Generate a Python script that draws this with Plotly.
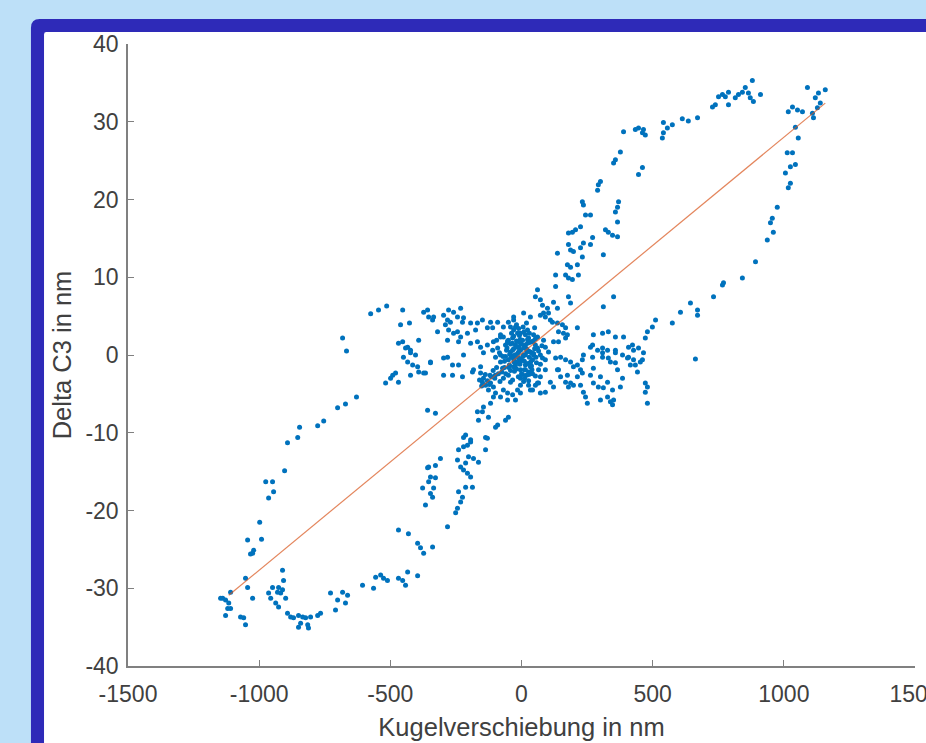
import plotly.graph_objects as go

# ---- data ----
upper_x = [880,853,842,827,815,865,872,884,911,789,777,789,766,751,739,728,671,636,613,575,556,541,537,541,465,461,446,434,472,389,377,358,351,461,446,301,293,290,232,236,263,244,370,366,358,366,320,331,347,366,225,206,194,179,271,263,236,225,232,179,187,198,312,137,175,187,213,130,168,179,194,217,130,61,53,179,351,312,80,99,103,91,72,118,137,156,168,160,141,213,168,141,122,72,122,137,187,8,34,84,110,175,-30,-50,-69]
upper_y = [35.3,34.4,33.8,33.5,33.1,33.7,33.1,32.6,33.5,33.8,33.2,32.2,33.5,33.2,32.2,31.9,30.5,30.1,30.4,29.6,29.2,28.6,27.9,29.9,29.0,28.6,29.2,29.0,28.3,28.7,26.1,25.1,24.7,24.1,23.2,22.3,21.9,21.2,19.7,19.3,18.0,18.0,19.7,19.0,18.4,17.1,16.1,15.8,15.4,15.2,16.5,16.1,15.8,15.7,15.1,14.2,14.4,13.8,12.6,14.2,13.5,13.3,12.9,13.1,11.6,11.3,11.6,10.3,10.3,9.9,9.7,10.3,8.8,8.4,7.5,7.5,7.5,6.2,6.4,6.0,5.4,4.9,5.1,4.2,4.1,3.9,3.5,2.8,3.0,3.5,2.2,1.7,1.7,7.1,6.8,6.0,6.7,5.4,4.9,5.4,4.5,2.6,4.9,4.2,3.6]

right_x = [1090,1132,1158,1120,1139,1128,1109,1113,1033,1052,1071,1017,1044,1055,1013,1033,1044,1025,1006,1025,1017,975,956,949,960,937,892,842,770,766,732,671,671,644,606,575,511,499,480,472]
right_y = [34.4,33.7,34.1,33.1,32.4,31.8,31.1,30.5,31.9,31.5,31.3,31.3,29.3,27.9,26.0,26.0,24.5,24.2,23.4,22.1,21.5,19.0,17.6,17.0,15.8,14.8,12.0,9.9,9.3,9.0,7.5,5.8,5.1,6.7,5.5,4.1,4.5,3.6,3.0,2.2]

lobe_x = [389,358,331,309,274,271,309,358,408,423,446,465,427,408,427,453,434,442,480,472,480,385,377,263,290,309,328,339,358,274,301,328,263,274,293,312,236,244,251,328,339,347,213,225,149,168,187,213,225,232,137,149,168,179,198,122,91,110,663,472,415,404,461,385,366,347,351,301,236,271,309,331,358,198,232,175,187,130,141,65,42,27,-4,-23,34,53,72]
lobe_y = [2.3,2.3,3.0,2.8,2.6,1.3,0.9,0.6,1.0,1.3,0.9,0.3,0.6,-0.3,-0.6,-0.9,-1.3,-2.2,-4.1,-4.8,-6.2,-3.0,-4.1,1.0,0.6,-0.3,0.6,-0.9,-1.0,-1.7,-2.8,-3.5,-2.6,-3.6,-4.1,-4.2,-4.8,-5.4,-6.2,-5.4,-6.0,-6.4,-2.8,-3.9,-0.3,-0.6,-0.9,-1.3,-1.9,-0.6,-1.9,-2.8,-3.5,-4.1,-3.9,-4.1,-4.8,-3.5,-0.5,-3.6,-1.3,-0.4,-0.6,0.0,-1.9,-4.5,-5.8,-5.8,0.0,-0.3,0.3,-0.4,0.3,-1.5,-2.3,-2.6,-3.6,-0.4,-1.9,-3.6,-4.5,-3.9,-4.9,-5.8,-4.5,-3.9,-4.9]

mid_x = [-358,-335,-297,-282,-259,-232,-221,-194,-175,-206,-232,-259,-194,-156,-130,-149,-118,-110,-91,-80,-320,-347,-366,-297,-263,-263,-225,-187,-156,-149,-137,-118,-126,-99,-80,-53,-15,-34,-69,-358,-328,-168,-164,-126,-91,-61,-50,-221,-194,-206,-137]
mid_y = [5.8,4.9,5.1,4.5,5.5,6.0,4.8,4.1,3.2,2.8,2.3,2.8,1.5,1.0,1.3,4.5,4.2,3.5,4.2,2.3,3.0,-0.9,-2.3,-0.4,-1.3,-2.6,-2.8,-2.2,-1.5,-3.5,-3.9,-3.6,-4.5,-4.9,-5.4,-5.8,-4.5,-5.1,-4.5,-7.1,-7.5,-7.3,-8.4,-8.0,-9.0,-8.4,-8.0,-10.6,-10.9,-11.6,-10.6]

lu_x = [-575,-545,-514,-453,-461,-427,-682,-667,-373,-354,-339,-278,-244,-225,-271,-290,-278,-244,-168,-168,-130,-282,-240,-453,-434,-423,-392,-107,-80,-30,-469,-442,-423,-404,-450,-434,-415,-396,-423,-392,-480,-499,-518,-469,-491,-373,-347,-282,-240,-221,-183,-156,-145,-297,-107,-53,-42,-107]
lu_y = [5.3,5.8,6.3,5.8,3.9,4.1,2.2,0.5,5.5,4.9,4.5,5.8,4.9,4.2,4.2,3.9,3.2,3.0,1.7,4.1,3.5,1.9,1.7,1.7,1.0,0.6,1.9,1.7,2.6,4.5,1.5,0.9,0.3,0.0,-0.3,-0.9,-1.3,-1.5,-2.6,-2.2,-2.3,-3.0,-3.6,-3.5,-2.6,-2.3,-1.0,-0.3,-1.3,0.0,-1.9,-2.3,0.3,-2.6,-4.1,-4.9,-3.5,-5.4]

ll_x = [-629,-671,-701,-754,-777,-846,-853,-892,-903,-975,-949,-945,-964,-998,-1044,-991,-1021,-1025,-1033,-911,-907,-926,-949,-930,-918,-964,-956,-937,-926,-899,-911,-1052,-1044,-1025,-1109,-1139,-1128,-1116,-1120,-1128,-1109,-1071,-1059,-1052,-1147,-892,-880,-869,-850,-834,-823,-804,-842,-850,-815,-812,-777,-766,-728,-701,-709,-682,-663,-671,-606,-564,-556,-537,-526,-511,-469,-453,-442,-434,-396,-469,-431,-396,-385,-373,-339,-282]
ll_y = [-5.4,-6.3,-6.8,-8.5,-9.1,-9.3,-10.6,-11.3,-14.9,-16.3,-16.3,-17.6,-18.4,-21.5,-23.8,-23.7,-25.1,-25.5,-25.6,-27.7,-29.0,-29.9,-29.9,-30.5,-30.6,-30.6,-31.3,-31.9,-32.4,-31.3,-30.2,-28.7,-29.9,-31.3,-30.5,-31.3,-31.5,-31.9,-32.6,-33.5,-32.6,-33.7,-33.8,-34.7,-31.3,-33.2,-33.7,-33.8,-33.5,-33.7,-33.8,-33.7,-34.5,-35.0,-34.7,-35.1,-33.5,-33.2,-30.6,-31.5,-32.8,-30.5,-30.9,-31.9,-29.6,-30.0,-28.6,-28.3,-28.7,-29.0,-28.7,-29.0,-29.6,-27.9,-28.4,-22.5,-23.0,-24.2,-24.8,-25.5,-24.7,-22.1]

li_x = [-309,-328,-354,-347,-354,-335,-377,-339,-347,-366,-328,-358,-251,-244,-232,-240,-225,-213,-187,-244,-232,-221,-206,-194,-213,-202,-183,-240,-221,-213,-194,-164,-137,-130,-99,-149,-145,-118]
li_y = [-13.3,-14.2,-14.4,-15.7,-16.3,-17.1,-17.1,-18.3,-17.8,-19.3,-15.8,-14.5,-20.3,-19.7,-18.9,-17.6,-18.3,-17.0,-17.0,-13.5,-14.4,-14.8,-15.2,-15.7,-13.9,-13.1,-13.3,-12.2,-11.8,-10.3,-11.2,-13.8,-12.2,-10.7,-9.3,-7.3,-6.7,-6.2]

core_x = [-4,-23,15,-42,34,-11,4,-34,27,-61,53,-50,42,-23,15,-4,-80,72,-69,61,-30,23,-4,-11,8,-38,30,-19,19,-57,50,-42,38,-8,11,-27,27,-80,72,-91,91,-50,53,-72,65,-4,-19,19,-42,50,-95,84,-11,0,-30,23,-53,46,-46,38,91,-99,103,-110,-4,-34,27,61,-69,72,91]
core_y = [0.6,1.3,1.3,0.4,0.4,-0.4,1.9,2.2,2.2,1.3,1.3,-0.6,-0.6,-1.3,-1.3,-1.9,0.0,0.0,2.3,2.3,3.2,3.2,2.8,1.0,0.0,-0.1,-0.3,1.8,0.8,0.6,0.8,1.4,1.7,-0.9,-0.8,-2.1,-2.2,-0.9,-1.2,0.9,1.0,-2.6,-2.7,-1.7,-1.9,-3.0,3.9,4.1,3.6,3.5,1.9,1.9,0.4,1.4,0.8,1.5,1.8,0.0,-1.4,-1.4,-0.6,-0.3,0.4,0.6,-3.9,-3.2,-3.3,-3.6,-3.0,-2.8,-1.9]

core2_x = [-15,8,-30,30,-50,46,-8,15,-23,23,-38,38,-61,57,-4,4,-19,19,-46,46,-34,34,-65,61,-11,11,-27,27,-53,53,-84,80,0,-15,15,-42,42,-8,8,-30,-160,-145,-130,-115,-100,-152,-122,-138]
core2_y = [0.2,0.9,-0.5,1.6,1.9,2.6,2.5,2.6,3.6,2.0,2.8,0.3,-0.2,-1.0,-0.8,-2.5,-1.8,-2.6,-1.3,0.2,0.6,-1.5,-0.8,0.9,3.4,-1.9,-0.3,0.5,1.6,2.1,0.3,-0.4,-2.4,1.0,0.0,-2.0,-2.4,1.6,-3.4,2.4,-3.2,-3.0,-3.3,-2.8,-2.6,-4.0,-3.8,-2.5]

core3_x = [-10,5,20,-25,35,-40,-5,10,25,-20,-35,45,-55,0,15,-30,30,-15,-45,55,-65,-75,-88,-102,-60,-70,-95,-108,-120,-82,65,78,-12,12,-28,28,-48,40,6,-6]
core3_y = [1.0,-0.2,0.4,0.0,-0.9,-0.3,2.0,3.0,-1.1,-0.9,1.5,1.8,0.9,-0.6,-1.9,-1.5,2.8,2.8,0.1,-0.3,-1.6,-2.2,-2.4,-3.0,-2.4,-0.2,-1.6,-2.0,-2.6,-3.4,0.5,1.2,-2.8,-3.0,-0.9,-2.5,-1.6,-1.9,3.6,-1.2]

fit_x = [-1116, 1158]
fit_y = [-30.9, 32.4]

x_ticks = [-1500, -1000, -500, 0, 500, 1000, 1500]
x_tick_text = ["-1500", "-1000", "-500", "0", "500", "1000", "1500"]
y_ticks = [-40, -30, -20, -10, 0, 10, 20, 30, 40]
y_tick_text = ["-40", "-30", "-20", "-10", "0", "10", "20", "30", "40"]

all_x = upper_x + right_x + lobe_x + mid_x + lu_x + ll_x + li_x + core_x + core2_x + core3_x
all_y = upper_y + right_y + lobe_y + mid_y + lu_y + ll_y + li_y + core_y + core2_y + core3_y

FONT = "Liberation Sans, Arial, Helvetica, sans-serif"
TXT = "#404040"
AX = "#808080"

fig = go.Figure()
fig.add_trace(go.Scatter(x=all_x, y=all_y, mode="markers",
                         marker=dict(color="#0072BD", size=5, line=dict(width=0)),
                         showlegend=False, hoverinfo="skip"))
fig.add_trace(go.Scatter(x=fit_x, y=fit_y, mode="lines",
                         line=dict(color="#D95319", width=1.2), opacity=0.7,
                         showlegend=False, hoverinfo="skip"))

axis_common = dict(showline=True, linecolor=AX, linewidth=1.5, ticks="inside",
                   ticklen=6, tickcolor=AX, tickwidth=1.2, showgrid=False, zeroline=False,
                   mirror=False, ticklabeloverflow="allow", automargin=False,
                   tickfont=dict(family=FONT, size=23, color=TXT))

# decorative frame (paper coordinates), rounded top-left corner
def frame_path(x0, x1, y0, y1, rx, ry):
    return (f"M {x0},{y0} L {x0},{y1 - ry} Q {x0},{y1} {x0 + rx},{y1} "
            f"L {x1},{y1} L {x1},{y0} Z")

fig.update_layout(
    width=926, height=743,
    margin=dict(l=128, r=11, t=44, b=77, pad=0, autoexpand=False),
    paper_bgcolor="#bde0f8",
    plot_bgcolor="rgba(0,0,0,0)",
    xaxis=dict(range=[-1500, 1500], tickvals=x_ticks, ticktext=x_tick_text,
               title=dict(text="Kugelverschiebung in nm", font=dict(family=FONT, size=25.5, color=TXT), standoff=12),
               ticklabelstandoff=7, **axis_common),
    yaxis=dict(range=[-40, 40], tickvals=y_ticks, ticktext=y_tick_text,
               title=dict(text="Delta C3 in nm", font=dict(family=FONT, size=25.5, color=TXT), standoff=6),
               ticklabelstandoff=3, **axis_common),
    shapes=[
        dict(type="path", xref="paper", yref="paper",
             path=frame_path(-0.1233, 1.06, -0.2, 1.0402, 0.011, 0.014),
             fillcolor="#2e2ab8", line=dict(width=0), layer="below"),
        dict(type="path", xref="paper", yref="paper",
             path=frame_path(-0.1067, 1.06, -0.2, 1.0193, 0.003, 0.004),
             fillcolor="#ffffff", line=dict(width=0), layer="below"),
    ],
)

fig.write_html("out.html", config={"displayModeBar": False},
               post_script="document.body.style.margin='0';document.body.style.overflow='hidden';document.body.style.background='#bde0f8';")
